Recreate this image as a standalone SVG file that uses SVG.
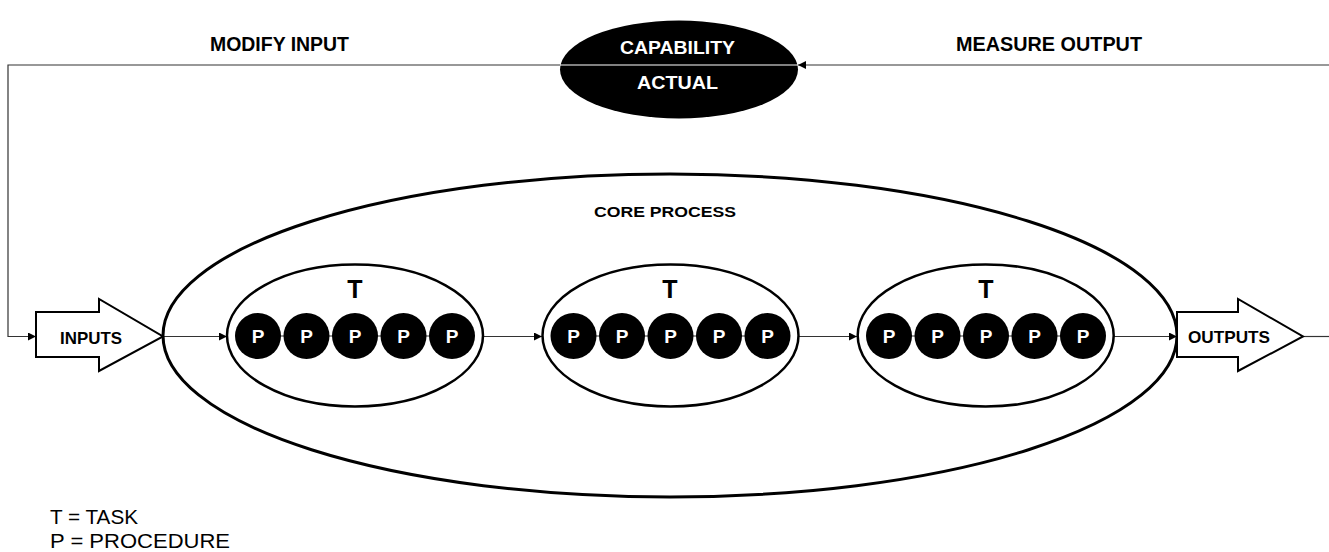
<svg xmlns="http://www.w3.org/2000/svg" width="1329" height="552" viewBox="0 0 1329 552">
  <style>
    .bold { font-family: "Liberation Sans", Arial, sans-serif; font-weight: bold; fill: #000; }
    .reg { font-family: "Liberation Sans", Arial, sans-serif; fill: #000; }
    .wire { fill: none; stroke: #333; stroke-width: 1.2; }
    .task { fill: #fff; stroke: #000; stroke-width: 2.5; }
    .proc { fill: #000; }
    .plabel { font-family: "Liberation Sans", Arial, sans-serif; font-weight: bold; font-size: 19px; fill: #fff; text-anchor: middle; }
    .tlabel { font-family: "Liberation Sans", Arial, sans-serif; font-weight: bold; font-size: 25px; fill: #000; text-anchor: middle; }
    .block { fill: #fff; stroke: #000; stroke-width: 2; stroke-linejoin: miter; }
  </style>
  <defs>
    <marker id="head" viewBox="0 0 10 10" refX="10" refY="5" markerWidth="8" markerHeight="8" markerUnits="userSpaceOnUse" orient="auto">
      <path d="M0,0 L10,5 L0,10 z" fill="#000"/>
    </marker>
    <g id="procRow">
      <line x1="-97" y1="0" x2="97" y2="0" stroke="#333" stroke-width="1"/>
      <circle class="proc" cx="-97" cy="0" r="23"/>
      <circle class="proc" cx="-48.5" cy="0" r="23"/>
      <circle class="proc" cx="0" cy="0" r="23"/>
      <circle class="proc" cx="48.5" cy="0" r="23"/>
      <circle class="proc" cx="97" cy="0" r="23"/>
      <text class="plabel" x="-97" y="7">P</text>
      <text class="plabel" x="-48.5" y="7">P</text>
      <text class="plabel" x="0" y="7">P</text>
      <text class="plabel" x="48.5" y="7">P</text>
      <text class="plabel" x="97" y="7">P</text>
    </g>
  </defs>
  <rect width="1329" height="552" fill="#fff"/>

  <!-- core process boundary -->
  <g id="core-process">
    <ellipse cx="670" cy="335.5" rx="507" ry="161.5" fill="none" stroke="#000" stroke-width="3"/>
    <text class="bold" x="665" y="217" font-size="15.5" text-anchor="middle" textLength="142" lengthAdjust="spacingAndGlyphs">CORE PROCESS</text>
  </g>

  <!-- connectors -->
  <g id="connectors">
    <path class="wire" d="M1329,65 H798" marker-end="url(#head)"/>
    <path class="wire" d="M560,65 H8 V336.5 H36" marker-end="url(#head)"/>
    <path class="wire" d="M163,336.5 H227" marker-end="url(#head)"/>
    <path class="wire" d="M483,336.5 H542" marker-end="url(#head)"/>
    <path class="wire" d="M798,336.5 H857" marker-end="url(#head)"/>
    <path class="wire" d="M1114,336.5 H1177" marker-end="url(#head)"/>
    <path class="wire" d="M1303,336.5 H1329"/>
  </g>

  <!-- feedback labels -->
  <g id="modify-input">
    <text class="bold" x="279.5" y="51" font-size="19.5" text-anchor="middle" textLength="139" lengthAdjust="spacingAndGlyphs">MODIFY INPUT</text>
  </g>
  <g id="measure-output">
    <text class="bold" x="1049" y="51" font-size="19.5" text-anchor="middle" textLength="186" lengthAdjust="spacingAndGlyphs">MEASURE OUTPUT</text>
  </g>

  <!-- capability / actual -->
  <g id="capability">
    <ellipse cx="679" cy="69.5" rx="119" ry="49" fill="#000"/>
    <line x1="560" y1="65" x2="798" y2="65" stroke="#fff" stroke-width="1.2"/>
    <text class="bold" x="677.5" y="54" font-size="18.5" fill="#fff" style="fill:#fff" text-anchor="middle" textLength="115" lengthAdjust="spacingAndGlyphs">CAPABILITY</text>
    <text class="bold" x="677.5" y="89" font-size="18.5" style="fill:#fff" text-anchor="middle" textLength="81" lengthAdjust="spacingAndGlyphs">ACTUAL</text>
  </g>

  <!-- inputs / outputs -->
  <g id="inputs">
    <polygon class="block" points="36,312 99,312 99,299 163,336.5 99,371 99,357 36,357"/>
    <text class="bold" x="91" y="344" font-size="17" text-anchor="middle" textLength="62" lengthAdjust="spacingAndGlyphs">INPUTS</text>
  </g>
  <g id="outputs">
    <polygon class="block" points="1177,312 1238,312 1238,299 1303,336.5 1238,371 1238,357 1177,357"/>
    <text class="bold" x="1229" y="343" font-size="17" text-anchor="middle" textLength="82" lengthAdjust="spacingAndGlyphs">OUTPUTS</text>
  </g>

  <!-- tasks -->
  <g id="task-1">
    <ellipse class="task" cx="355" cy="335.5" rx="128" ry="71"/>
    <text class="tlabel" x="355" y="298">T</text>
    <use href="#procRow" x="355" y="336"/>
  </g>
  <g id="task-2">
    <ellipse class="task" cx="670.5" cy="335.5" rx="128" ry="71"/>
    <text class="tlabel" x="670" y="298">T</text>
    <use href="#procRow" x="670.5" y="336"/>
  </g>
  <g id="task-3">
    <ellipse class="task" cx="985.7" cy="335.5" rx="128" ry="71"/>
    <text class="tlabel" x="986" y="298">T</text>
    <use href="#procRow" x="986" y="336"/>
  </g>

  <!-- legend -->
  <g id="legend">
    <text class="reg" x="50" y="524" font-size="20" textLength="88" lengthAdjust="spacingAndGlyphs">T = TASK</text>
    <text class="reg" x="50" y="548" font-size="20" textLength="180" lengthAdjust="spacingAndGlyphs">P = PROCEDURE</text>
  </g>
</svg>
